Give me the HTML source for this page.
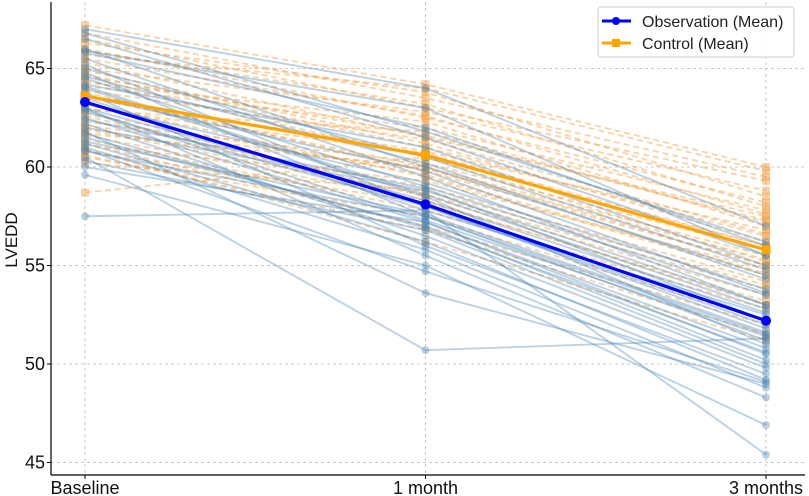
<!DOCTYPE html>
<html><head><meta charset="utf-8"><style>
body{margin:0;background:#fff;}
svg{display:block;font-family:"Liberation Sans","DejaVu Sans",sans-serif;}
</style></head><body>
<svg id="chart" width="809" height="496" xmlns="http://www.w3.org/2000/svg">
<g id="grid"></g>
<g id="ctl"></g>
<g id="obs"></g>
<g id="means"></g>
<g id="axes"></g>
<text transform="translate(17,240) rotate(-90)" text-anchor="middle" font-size="17" fill="#111">LVEDD</text>
<g>
<rect x="598" y="7" width="196" height="50" rx="3" fill="#fff" fill-opacity="0.85" stroke="#ccc"/>
<g>
<line x1="602" y1="21" x2="631" y2="21" stroke="#0000ff" stroke-width="3"/><circle cx="616" cy="21" r="4" fill="#0000ff"/>
<text x="642" y="27" font-size="16" fill="#222">Observation (Mean)</text></g>
<g>
<line x1="602" y1="43" x2="631" y2="43" stroke="#ffa500" stroke-width="3"/><rect x="612" y="39" width="8" height="8" fill="#ffa500"/>
<text x="642" y="49" font-size="16" fill="#222">Control (Mean)</text></g>
</g>
</svg>
<script>
const categories=["Baseline","1 month","3 months"];
const yTicks=[45,50,55,60,65];
const obsBaseline=[67.0,66.5,66.0,65.8,65.5,65.2,65.0,64.8,64.5,64.2,64.0,63.8,63.5,63.2,63.0,62.8,62.5,62.2,62.0,61.8,61.5,61.2,61.0,60.8,60.5,60.3,60.0,59.6,57.5,63.0,62.4,64.6,65.9,61.3,60.9,63.6,62.9,64.1,66.8,61.7];
const obsMonth1=[64.0,61.5,60.0,62.0,59.5,58.0,60.5,57.5,59.0,61.0,58.5,56.0,57.8,59.2,55.5,58.0,57.2,56.5,58.8,53.6,57.0,56.2,55.8,57.5,50.7,56.8,57.2,55.0,57.8,58.3,58.9,60.2,63.0,57.6,54.7,59.8,57.3,58.6,61.8,56.9];
const obsMonth3=[57.0,55.5,54.5,56.0,53.0,52.0,54.8,51.5,53.5,55.0,51.0,49.5,52.5,53.8,48.3,51.8,50.5,49.8,53.0,49.0,50.2,49.2,48.8,51.2,51.3,50.0,50.8,46.9,45.4,52.6,52.2,54.3,55.5,51.6,49.1,53.6,51.4,52.8,56.2,50.6];
const ctlBaseline=[67.2,66.8,66.5,66.0,65.7,65.3,65.0,64.7,64.4,64.1,63.8,63.5,63.2,62.9,62.6,62.3,62.0,61.7,61.4,61.1,60.8,60.5,60.2,58.7,65.9,64.9,63.6,62.7,61.9,60.9,66.3,64.3,63.0,61.6,65.5,62.1,63.9,61.2,60.6,64.6];
const ctlMonth1=[64.2,63.5,63.0,62.5,64.0,61.5,62.8,61.0,60.5,62.0,59.8,60.8,59.5,61.8,58.5,60.2,59.0,60.0,57.8,59.3,58.2,57.5,58.8,60.5,63.2,61.2,60.0,59.6,58.6,56.2,63.8,62.3,60.7,58.3,62.6,59.9,61.4,57.0,56.8,61.6];
const ctlMonth3=[60.0,59.5,59.3,58.2,59.8,57.5,58.8,56.5,56.0,57.8,55.0,56.8,54.5,57.2,53.5,55.8,54.2,55.5,52.8,54.8,53.2,52.2,54.0,55.2,58.0,56.2,55.0,54.6,53.8,51.2,58.5,57.0,56.0,53.0,57.6,55.3,56.6,52.0,51.5,57.3];
const obsMean=[63.3,58.1,52.2];
const ctlMean=[63.6,60.6,55.8];

const NS="http://www.w3.org/2000/svg";
const L=51,R=805,T=2,B=475;
const xs=i=>85+i*340.5;
const ys=v=>167-(v-60)*19.7;
function mk(p,tag,at){const e=document.createElementNS(NS,tag);for(const k in at)e.setAttribute(k,at[k]);p.appendChild(e);return e;}
const grid=document.getElementById('grid'),axes=document.getElementById('axes');
yTicks.forEach(t=>{
 const g=mk(grid,'line',{x1:L,x2:R,y1:ys(t),y2:ys(t),stroke:'#bbb','stroke-dasharray':'3,3','stroke-width':0.8});
 
 
 mk(axes,'line',{x1:L-4,x2:L,y1:ys(t),y2:ys(t),stroke:'#000'});
 const tx=mk(axes,'text',{x:L-6,y:ys(t)+6,'text-anchor':'end','font-size':18,fill:'#111'});tx.textContent=t;
 
 
});
categories.forEach((c,i)=>{
 const g=mk(grid,'line',{x1:xs(i),x2:xs(i),y1:T,y2:B,stroke:'#bbb','stroke-dasharray':'3,3','stroke-width':0.8});
 
 
 mk(axes,'line',{x1:xs(i),x2:xs(i),y1:B,y2:B+4,stroke:'#000'});
 const tx=mk(axes,'text',{x:xs(i),y:B+19,'text-anchor':'middle','font-size':18,fill:'#111'});tx.textContent=c;
 
 
});
mk(axes,'line',{x1:L,x2:L,y1:T,y2:B,stroke:'#000','stroke-width':1.2});
mk(axes,'line',{x1:L,x2:R,y1:B,y2:B,stroke:'#000','stroke-width':1.2});

function series(g,vals,color,dash,square,w,r,op,name){
 const pts=vals.map((v,i)=>xs(i)+','+ys(v)).join(' ');
 const pl=mk(g,'polyline',{points:pts,fill:'none',stroke:color,'stroke-width':w,'stroke-opacity':op});
 if(dash)pl.setAttribute('stroke-dasharray',dash);
 
 
 vals.forEach((v,i)=>{
  const m=square?mk(g,'rect',{x:xs(i)-r,y:ys(v)-r,width:2*r,height:2*r,fill:color,'fill-opacity':op})
                :mk(g,'circle',{cx:xs(i),cy:ys(v),r:r,fill:color,'fill-opacity':op});
  
  
 });
}
const ctl=document.getElementById('ctl'),obs=document.getElementById('obs'),means=document.getElementById('means');
ctlBaseline.forEach((b,k)=>series(ctl,[b,ctlMonth1[k],ctlMonth3[k]],'#f5a040','6,4',true,1.9,4,0.45,'control-subject-line'));
obsBaseline.forEach((b,k)=>series(obs,[b,obsMonth1[k],obsMonth3[k]],'#4682b4',null,false,1.9,4,0.36,'observation-subject-line'));
series(means,ctlMean,'#ffa500',null,true,3.2,4.5,1,'control-mean-line');
series(means,obsMean,'#0000ff',null,false,3.2,5,1,'observation-mean-line');
</script>
</body></html>
